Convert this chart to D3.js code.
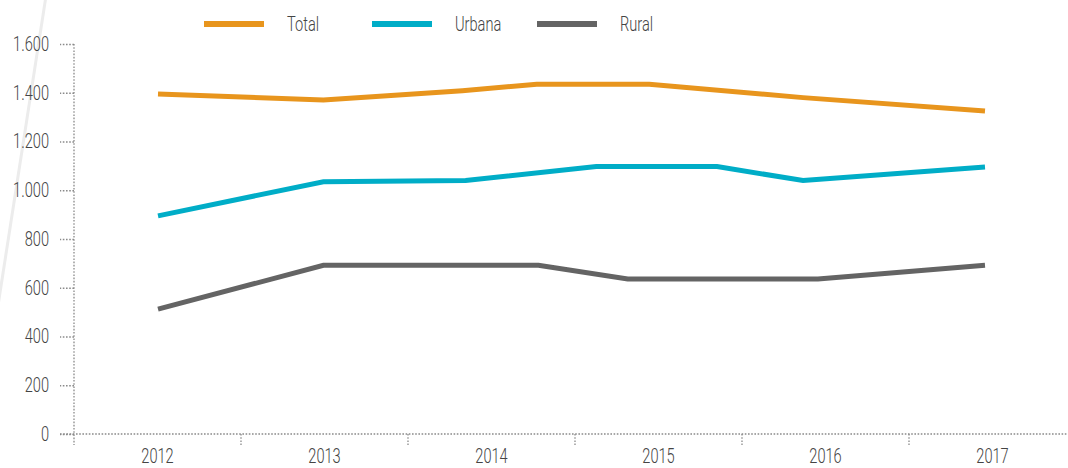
<!DOCTYPE html>
<html>
<head>
<meta charset="utf-8">
<script src="https://cdn.jsdelivr.net/npm/d3@7"></script>
<style>
  html, body { margin: 0; padding: 0; background: #fff; }
  svg { display: block; }
  text { font-family: Roboto, "Noto Sans", sans-serif; font-weight: 300; fill: #444; }
</style>
</head>
<body>
<svg id="chart" width="1068" height="468"></svg>
<script>
// ---- data ----
const years = ["2012", "2013", "2014", "2015", "2016", "2017"];
const yTicks = [0, 200, 400, 600, 800, 1000, 1200, 1400, 1600];
const seriesNames = ["Total", "Urbana", "Rural"];
const seriesColors = ["#e8951d", "#00adc7", "#646464"];
// vertex positions (fractional year) and values
const totalX  = [2012, 2013, 2013.84, 2014.29, 2014.97, 2015.9, 2017];
const totalY  = [1395, 1370, 1408, 1435, 1435, 1380, 1325];
const urbanaX = [2012, 2013, 2013.86, 2014.65, 2015.38, 2015.9, 2017];
const urbanaY = [895, 1035, 1040, 1097, 1097, 1040, 1095];
const ruralX  = [2012, 2013, 2014.3, 2014.84, 2015.99, 2017];
const ruralY  = [512, 692, 692, 636, 636, 692];

const series = [
  { name: seriesNames[0], color: seriesColors[0], pts: totalX.map((x, i) => [x, totalY[i]]) },
  { name: seriesNames[1], color: seriesColors[1], pts: urbanaX.map((x, i) => [x, urbanaY[i]]) },
  { name: seriesNames[2], color: seriesColors[2], pts: ruralX.map((x, i) => [x, ruralY[i]]) }
];

// ---- layout ----
const W = 1068, H = 468;
const FS = 20, SQUEEZE = 0.73;
const svg = d3.select("#chart");
const plotLeft = 74, plotRight = 1076, y0 = 434, yTop = 44;

const locale = d3.formatLocale({ decimal: ",", thousands: ".", grouping: [3], currency: ["", ""] });
const fmt = locale.format(",d");

const xBand = d3.scaleBand().domain(years).range([plotLeft, plotRight]);
const xLine = d3.scaleLinear().domain([2012, 2017]).range([158, 985]);
const y = d3.scaleLinear().domain([0, 1600]).range([y0, yTop]);

// condensed look: compress glyphs horizontally
function condense(sel) {
  sel.each(function () {
    const w = this.getComputedTextLength();
    d3.select(this).attr("textLength", w * SQUEEZE).attr("lengthAdjust", "spacingAndGlyphs");
  });
}

// decorative faint arc at left
svg.append("path")
  .attr("d", "M46,-4 Q22,150 -3,312")
  .attr("fill", "none").attr("stroke", "#ececec").attr("stroke-width", 3);

const dotted = sel => sel.attr("stroke", "#8a8a8a").attr("stroke-width", 1.3).attr("stroke-dasharray", "1.6,1.6");

// y axis
const yAxisG = svg.append("g").attr("transform", `translate(${plotLeft},0)`)
  .call(d3.axisLeft(y).tickValues(yTicks).tickFormat(fmt).tickSize(14).tickPadding(11));
yAxisG.attr("font-family", null).attr("font-size", null);
yAxisG.select(".domain").remove();
yAxisG.selectAll(".tick line").call(dotted);
yAxisG.selectAll(".tick text").attr("font-size", FS).attr("fill", "#444").call(condense);
svg.append("line").attr("x1", plotLeft).attr("x2", plotLeft).attr("y1", yTop).attr("y2", y0 + 11).call(dotted);

// x axis
const xAxisG = svg.append("g").attr("transform", `translate(0,${y0})`)
  .call(d3.axisBottom(xBand).tickSize(0).tickPadding(15));
xAxisG.attr("font-family", null).attr("font-size", null);
xAxisG.select(".domain").remove();
xAxisG.selectAll(".tick text").attr("font-size", FS).attr("fill", "#444").call(condense);
svg.append("line").attr("x1", 60).attr("x2", W).attr("y1", y0).attr("y2", y0).call(dotted);
// boundary ticks between categories
svg.append("g").selectAll("line")
  .data(years.slice(1, years.length))
  .join("line")
  .attr("x1", d => xBand(d)).attr("x2", d => xBand(d))
  .attr("y1", y0).attr("y2", y0 + 11)
  .call(dotted);

// lines
const line = d3.line().x(d => xLine(d[0])).y(d => y(d[1]));
svg.append("g").selectAll("path")
  .data(series)
  .join("path")
  .attr("d", d => line(d.pts))
  .attr("fill", "none")
  .attr("stroke", d => d.color)
  .attr("stroke-width", 5)
  .attr("stroke-linejoin", "miter");

// legend
const legendX = [204, 372, 537];
const lg = svg.append("g").selectAll("g")
  .data(series)
  .join("g")
  .attr("transform", (d, i) => `translate(${legendX[i]},24)`);
lg.append("line").attr("x1", 0).attr("x2", 60).attr("y1", 0).attr("y2", 0)
  .attr("stroke", d => d.color).attr("stroke-width", 6);
lg.append("text").attr("x", 83).attr("y", 0).attr("dy", "0.35em")
  .attr("font-size", FS).text(d => d.name).call(condense);
</script>
</body>
</html>
